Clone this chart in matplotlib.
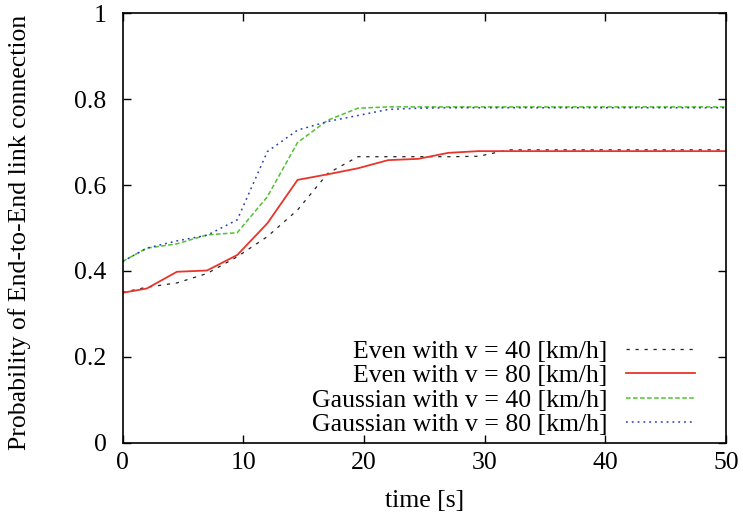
import matplotlib
matplotlib.use('Agg')
import matplotlib.pyplot as plt

plt.rcParams['font.family'] = ['Liberation Serif', 'DejaVu Serif']
plt.rcParams['mathtext.fontset'] = 'stix'

# time samples [s]
t = [0, 2, 4.5, 7, 9.5, 12, 14.5, 17, 19.5, 22, 24.5, 27, 29.5, 32, 34.5, 37,
     39.5, 42, 44.5, 47, 50]

even_40 = [0.350, 0.362, 0.372, 0.394, 0.433, 0.480, 0.542, 0.627, 0.666, 0.666,
           0.666, 0.666, 0.667, 0.682, 0.682, 0.682, 0.682, 0.682, 0.682, 0.682, 0.682]
even_80 = [0.349, 0.359, 0.398, 0.401, 0.437, 0.511, 0.612, 0.625, 0.639, 0.658,
           0.661, 0.675, 0.679, 0.679, 0.679, 0.679, 0.679, 0.679, 0.679, 0.679, 0.679]
gauss_40 = [0.422, 0.453, 0.463, 0.484, 0.489, 0.573, 0.699, 0.751, 0.779, 0.782,
            0.782, 0.782, 0.782, 0.782, 0.782, 0.782, 0.782, 0.782, 0.782, 0.782, 0.782]
gauss_80 = [0.422, 0.453, 0.470, 0.483, 0.519, 0.678, 0.728, 0.748, 0.762, 0.776,
            0.779, 0.780, 0.780, 0.780, 0.780, 0.780, 0.780, 0.780, 0.780, 0.780, 0.780]

labels = ['Even with v = 40 [km/h]', 'Even with v = 80 [km/h]',
          'Gaussian with v = 40 [km/h]', 'Gaussian with v = 80 [km/h]']

fs = 18.5

fig = plt.figure(figsize=(7.43, 5.22), dpi=100)
ax = fig.add_axes([0.165, 0.152, 0.812, 0.8225])

ax.plot(t, even_40, color='#222222', lw=0.9, dashes=(2.6, 4.6), label=labels[0])
ax.plot(t, even_80, color='#e8352b', lw=1.3, label=labels[1])
ax.plot(t, gauss_40, color='#4fc22e', lw=1.1, dashes=(3.0, 1.6), label=labels[2])
ax.plot(t, gauss_80, color='#2a3db8', lw=1.1, dashes=(1.2, 2.6), label=labels[3])

ax.set_xlim(0, 50)
ax.set_ylim(0, 1)
ax.set_xticks([0, 10, 20, 30, 40, 50])
ax.set_yticks([0, 0.2, 0.4, 0.6, 0.8, 1])
ax.set_yticklabels(['0', '0.2', '0.4', '0.6', '0.8', '1'])
ax.tick_params(direction='in', length=6, width=1, labelsize=fs,
               top=True, right=True)
ax.tick_params(axis='x', pad=6.5)
ax.tick_params(axis='y', pad=11.5)
for s in ax.spines.values():
    s.set_linewidth(1.2)

ax.set_xlabel('time [s]', fontsize=fs)
ax.set_ylabel('Probability of End-to-End link connection', fontsize=fs)
ax.xaxis.set_label_coords(0.5, -0.110)
ax.yaxis.set_label_coords(-0.152, 0.49)

ax.legend(loc='lower right', bbox_to_anchor=(0.9486, 0.016), frameon=False,
          markerfirst=False, fontsize=fs, handlelength=2.7, labelspacing=0.05,
          borderpad=0, borderaxespad=0, handletextpad=0.7)

fig.savefig('out.png', dpi=100)
